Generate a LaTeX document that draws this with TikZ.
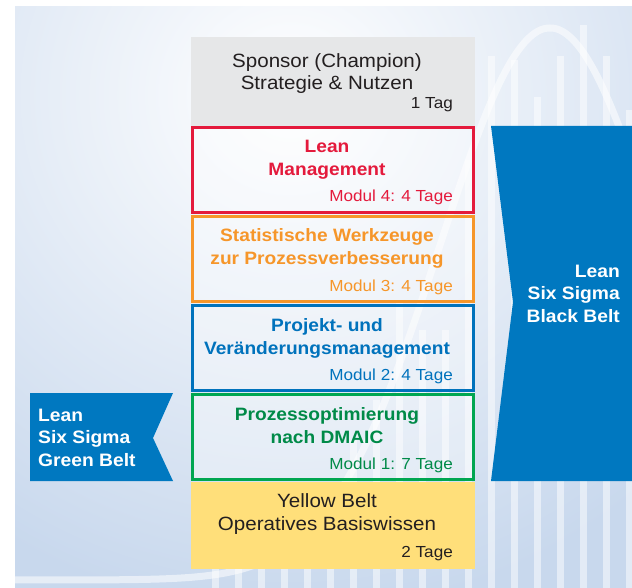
\documentclass[tikz,border=0pt]{standalone}
\usepackage{fontspec}
\setmainfont{Liberation Sans}[FakeStretch=1.07]
\definecolor{bgblue}{RGB}{200,216,237}
\definecolor{boxgray}{RGB}{230,231,232}
\definecolor{lmred}{RGB}{228,26,60}
\definecolor{lmorange}{RGB}{246,150,42}
\definecolor{lmblue}{RGB}{0,114,188}
\definecolor{lmgreen}{RGB}{0,166,81}
\definecolor{lmgreentext}{RGB}{0,138,72}
\definecolor{lmyellow}{RGB}{255,223,122}
\definecolor{beltblue}{RGB}{0,120,192}
\definecolor{textdark}{RGB}{35,31,32}
\begin{document}
\begin{tikzpicture}[x=1pt,y=-1pt,
  solidbox/.style={draw=none, inner sep=0pt, minimum width=284pt},
  modbox/.style={line width=3pt, fill=white, fill opacity=0.35, inner sep=0pt, minimum width=281pt, minimum height=85pt},
  plain/.style={anchor=base, inner sep=0pt, text=textdark, font=\fontsize{19.2}{22}\selectfont},
  daytxt/.style={anchor=base east, inner sep=0pt, font=\fontsize{16}{19}\selectfont},
  ttl/.style={anchor=base, inner sep=0pt, font=\fontsize{17.9}{22}\selectfont\bfseries},
  belttxt/.style={inner sep=0pt, text=white, font=\fontsize{18}{22}\selectfont\bfseries},
  bar/.style={fill=white, opacity=0.5},
  bell/.style={draw=white, opacity=0.55, line width=7pt}]
\useasboundingbox (0,0) rectangle (632,588);
% background
\begin{scope}
  \clip (15,7) rectangle (632,588);
  \fill[bgblue] (15,7) rectangle (632,588);
  \shade[inner color=white, outer color=bgblue] (290,95) ellipse (540pt and 520pt);
  \foreach \bx/\by in {215/566, 238/562, 261/556, 284/548, 307/530, 330/500, 353/440, 376/400, 399/300, 422/330, 445/330, 468/160, 491/56, 514/60, 537/97, 560/56, 583/25, 606/56, 629/110}
    \fill[bar] (\bx-3.5,\by) rectangle (\bx+3.5,588);
  \draw[bell] plot[domain=15:640, samples=140, smooth] (\x, {580-552*exp(-0.5*((\x-550)/110)^2)});
\end{scope}
% column of boxes
\node[solidbox, fill=boxgray, minimum height=89pt] (spon) at (333,81.5) {};
\node[modbox, draw=lmred] (lean) at (333,170) {};
\node[modbox, draw=lmorange] (stat) at (333,259) {};
\node[modbox, draw=lmblue] (proj) at (333,348) {};
\node[modbox, draw=lmgreen] (dmaic) at (333,437) {};
\node[solidbox, fill=lmyellow, minimum height=87pt] (yell) at (333,525.5) {};
% texts
\node[plain] (s1) at (327,68) {Sponsor (Champion)};
\node[plain] (s2) at (327,90) {Strategie \& Nutzen};
\node[daytxt, text=textdark] (s3) at (453,109) {1 Tag};
\node[ttl, text=lmred] (l1) at (327,153) {Lean};
\node[ttl, text=lmred] (l2) at (327,176) {Management};
\node[daytxt, text=lmred] (l3) at (453,202) {Modul 4: 4 Tage};
\node[ttl, text=lmorange] (o1) at (327,242) {Statistische Werkzeuge};
\node[ttl, text=lmorange] (o2) at (327,265) {zur Prozessverbesserung};
\node[daytxt, text=lmorange] (o3) at (453,291) {Modul 3: 4 Tage};
\node[ttl, text=lmblue] (b1) at (327,331) {Projekt- und};
\node[ttl, text=lmblue] (b2) at (327,354) {Veränderungsmanagement};
\node[daytxt, text=lmblue] (b3) at (453,380) {Modul 2: 4 Tage};
\node[ttl, text=lmgreentext] (g1) at (327,420) {Prozessoptimierung};
\node[ttl, text=lmgreentext] (g2) at (327,443) {nach DMAIC};
\node[daytxt, text=lmgreentext] (g3) at (453,469) {Modul 1: 7 Tage};
\node[plain] (y1) at (327,507) {Yellow Belt};
\node[plain] (y2) at (327,530) {Operatives Basiswissen};
\node[daytxt, text=textdark] (y3) at (453,557) {2 Tage};
% belts
\fill[beltblue] (491,126) -- (632,126) -- (632,481) -- (491,481) -- (513,302) -- cycle;
\fill[beltblue] (30,393) -- (173,393) -- (153,438) -- (173,481) -- (30,481) -- cycle;
\node[belttxt, anchor=base east] (bb1) at (620,277) {Lean};
\node[belttxt, anchor=base east] (bb2) at (620,299) {Six Sigma};
\node[belttxt, anchor=base east] (bb3) at (620,322) {Black Belt};
\node[belttxt, anchor=base west] (gb1) at (38,421) {Lean};
\node[belttxt, anchor=base west] (gb2) at (38,443) {Six Sigma};
\node[belttxt, anchor=base west] (gb3) at (38,466) {Green Belt};
\end{tikzpicture}
\end{document}
